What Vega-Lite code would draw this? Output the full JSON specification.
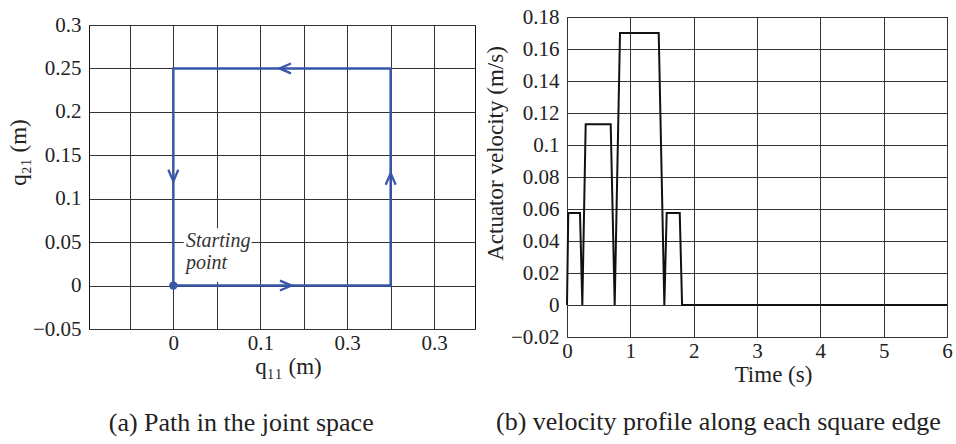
{
  "$schema": "https://vega.github.io/schema/vega-lite/v6.json",
  "background": "white",
  "padding": {"left": 6, "top": 5, "right": 4, "bottom": 4},
  "config": {
    "font": "Liberation Serif",
    "view": {"stroke": "#111", "strokeWidth": 1},
    "axis": {
      "labelFont": "Liberation Serif", "labelFontSize": 21, "labelColor": "#222",
      "titleFont": "Liberation Serif", "titleFontSize": 23, "titleFontWeight": "normal", "titleColor": "#222",
      "gridColor": "#333", "gridOpacity": 1, "gridWidth": 1,
      "ticks": false, "tickSize": 0, "domain": false, "labelPadding": 8,
      "labelFlush": false, "labelOverlap": false
    },
    "title": {"font": "Liberation Serif", "fontSize": 26, "fontWeight": "normal", "color": "#222", "orient": "bottom", "anchor": "middle", "frame": "bounds"}
  },
  "datasets": {
    "labelbox": [{"x": 0.012, "x2": 0.09, "y": 0.004, "y2": 0.066}],
    "path": [
      {"step": 1, "x": 0, "y": 0},
      {"step": 2, "x": 0.25, "y": 0},
      {"step": 3, "x": 0.25, "y": 0.25},
      {"step": 4, "x": 0, "y": 0.25},
      {"step": 5, "x": 0, "y": 0}
    ],
    "arrows": [
      {"x": 0.136, "y": 0, "dir": "right"},
      {"x": 0.25, "y": 0.1295, "dir": "up"},
      {"x": 0.122, "y": 0.25, "dir": "left"},
      {"x": 0, "y": 0.12, "dir": "down"}
    ],
    "start": [{"x": 0, "y": 0}],
    "notes": [
      {"x": 0.0145, "y": 0.0441, "label": "Starting"},
      {"x": 0.0145, "y": 0.0188, "label": "point"}
    ],
    "velocity": [
      {"t": 0, "v": 0},
      {"t": 0.02, "v": 0.0575},
      {"t": 0.205, "v": 0.0575},
      {"t": 0.242, "v": 0},
      {"t": 0.295, "v": 0.113},
      {"t": 0.69, "v": 0.113},
      {"t": 0.753, "v": 0},
      {"t": 0.837, "v": 0.17},
      {"t": 1.448, "v": 0.17},
      {"t": 1.537, "v": 0},
      {"t": 1.574, "v": 0.0575},
      {"t": 1.78, "v": 0.0575},
      {"t": 1.817, "v": 0},
      {"t": 6, "v": 0}
    ]
  },
  "bounds": "flush",
  "center": true,
  "spacing": 92,
  "hconcat": [
    {
      "width": 386,
      "height": 304,
      "title": {"text": "(a) Path in the joint space", "offset": 32},
      "encoding": {
        "x": {
          "field": "x", "type": "quantitative",
          "scale": {"domain": [-0.097, 0.347], "nice": false, "zero": false},
          "axis": {
            "values": [-0.05, 0, 0.05, 0.1, 0.15, 0.2, 0.25, 0.3],
            "labelExpr": "datum.value == 0 ? '0' : abs(datum.value - 0.1) < 1e-6 ? '0.1' : abs(datum.value - 0.2) < 1e-6 ? '0.3' : abs(datum.value - 0.3) < 1e-6 ? '0.3' : ''",
            "title": "q₁₁ (m)", "labelPadding": 3, "titlePadding": 2, "titleX": 199
          }
        },
        "y": {
          "field": "y", "type": "quantitative",
          "scale": {"domain": [-0.05, 0.3], "nice": false, "zero": false},
          "axis": {
            "values": [-0.05, 0, 0.05, 0.1, 0.15, 0.2, 0.25, 0.3],
            "format": ".2~f",
            "title": "q₂₁ (m)", "titlePadding": 2, "titleY": 127
          }
        }
      },
      "layer": [
        {
          "data": {"name": "labelbox"},
          "mark": {"type": "rect", "fill": "white", "stroke": null},
          "encoding": {"x2": {"field": "x2"}, "y2": {"field": "y2"}}
        },
        {
          "data": {"name": "path"},
          "mark": {"type": "line", "color": "#3a56a8", "strokeWidth": 2.5},
          "encoding": {"order": {"field": "step", "type": "quantitative"}}
        },
        {
          "data": {"name": "arrows"},
          "mark": {"type": "point", "filled": false, "color": "#3a56a8", "strokeWidth": 2.3, "size": 538, "opacity": 1},
          "encoding": {
            "shape": {
              "field": "dir", "type": "nominal", "legend": null,
              "scale": {
                "domain": ["right", "up", "left", "down"],
                "range": ["M-1,-0.43L0,0L-1,0.43", "M-0.43,1L0,0L0.43,1", "M1,-0.43L0,0L1,0.43", "M-0.43,-1L0,0L0.43,-1"]
              }
            }
          }
        },
        {
          "data": {"name": "start"},
          "mark": {"type": "circle", "color": "#3a56a8", "size": 70, "opacity": 1}
        },
        {
          "data": {"name": "notes"},
          "mark": {"type": "text", "align": "left", "baseline": "alphabetic", "font": "Liberation Serif", "fontStyle": "italic", "fontSize": 20, "color": "#333"},
          "encoding": {"text": {"field": "label", "type": "nominal"}}
        }
      ]
    },
    {
      "width": 380,
      "height": 320,
      "title": {"text": "(b) velocity profile along each square edge", "offset": 23},
      "data": {"name": "velocity"},
      "mark": {"type": "line", "color": "#111", "strokeWidth": 2},
      "encoding": {
        "x": {
          "field": "t", "type": "quantitative",
          "scale": {"domain": [0, 6], "nice": false},
          "axis": {"values": [0, 1, 2, 3, 4, 5, 6], "format": "d", "title": "Time (s)", "labelPadding": 3, "titlePadding": 2, "titleX": 206}
        },
        "y": {
          "field": "v", "type": "quantitative",
          "scale": {"domain": [-0.02, 0.18], "nice": false, "zero": false},
          "axis": {
            "values": [-0.02, 0, 0.02, 0.04, 0.06, 0.08, 0.1, 0.12, 0.14, 0.16, 0.18],
            "format": ".2~f", "title": "Actuator velocity (m/s)", "titlePadding": 3, "titleY": 136
          }
        }
      }
    }
  ]
}
